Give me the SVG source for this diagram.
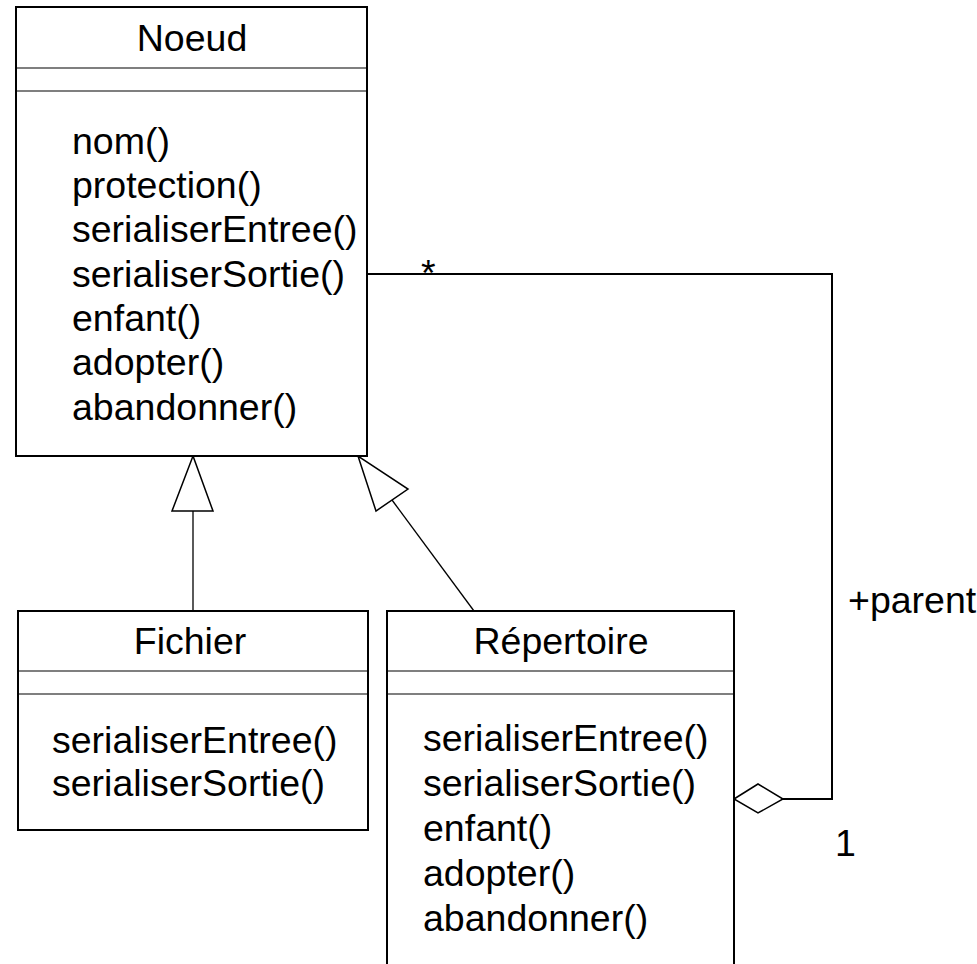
<svg xmlns="http://www.w3.org/2000/svg" width="977" height="964" viewBox="0 0 977 964">
  <style>
    .box { fill: #fff; stroke: #000; stroke-width: 2; }
    .sep { stroke: #000; stroke-width: 1.2; }
    .t { font-family: "Liberation Sans", Arial, sans-serif; font-size: 37.5px; fill: #000; }
    .c { text-anchor: middle; }
    .ln { fill: none; stroke: #000; stroke-width: 2; }
    .thin { fill: none; stroke: #000; stroke-width: 1.3; }
    .head { fill: #fff; stroke: #000; stroke-width: 1.5; }
  </style>
  <rect width="977" height="964" fill="#fff"/>

  <g id="connectors">
    <!-- generalisation Fichier -> Noeud -->
    <line class="thin" x1="193" y1="511" x2="193" y2="611"/>
    <polygon class="head" points="193,456 172,511 213,511"/>
    <!-- generalisation Répertoire -> Noeud -->
    <line class="thin" x1="392" y1="500" x2="474" y2="611"/>
    <polygon class="head" points="358,456 376,511 408,489"/>
    <!-- aggregation Répertoire <>- Noeud -->
    <polyline class="ln" points="367,274 832,274 832,799 783,799"/>
    <polygon class="head" points="734,799 758,784 783,799 758,813"/>
    <text class="t" x="421" y="286">*</text>
    <text class="t" x="848" y="613">+parent</text>
    <text class="t" x="835" y="856">1</text>
  </g>

  <g id="noeud">
    <rect class="box" x="16" y="7" width="351" height="449"/>
    <line class="sep" x1="16" y1="68" x2="367" y2="68"/>
    <line class="sep" x1="16" y1="91" x2="367" y2="91"/>
    <text class="t c" x="192" y="51">Noeud</text>
    <text class="t" x="72" y="154">nom()</text>
    <text class="t" x="72" y="198">protection()</text>
    <text class="t" x="72" y="242">serialiserEntree()</text>
    <text class="t" x="72" y="287">serialiserSortie()</text>
    <text class="t" x="72" y="331">enfant()</text>
    <text class="t" x="72" y="375">adopter()</text>
    <text class="t" x="72" y="420">abandonner()</text>
  </g>

  <g id="fichier">
    <rect class="box" x="18" y="611" width="350" height="219"/>
    <line class="sep" x1="18" y1="671" x2="368" y2="671"/>
    <line class="sep" x1="18" y1="694" x2="368" y2="694"/>
    <text class="t c" x="190" y="654">Fichier</text>
    <text class="t" x="52" y="753">serialiserEntree()</text>
    <text class="t" x="52" y="796">serialiserSortie()</text>
  </g>

  <g id="repertoire">
    <rect class="box" x="387" y="611" width="347" height="380"/>
    <line class="sep" x1="387" y1="671" x2="734" y2="671"/>
    <line class="sep" x1="387" y1="694" x2="734" y2="694"/>
    <text class="t c" x="561" y="654">Répertoire</text>
    <text class="t" x="423" y="751">serialiserEntree()</text>
    <text class="t" x="423" y="796">serialiserSortie()</text>
    <text class="t" x="423" y="841">enfant()</text>
    <text class="t" x="423" y="886">adopter()</text>
    <text class="t" x="423" y="931">abandonner()</text>
  </g>
</svg>
